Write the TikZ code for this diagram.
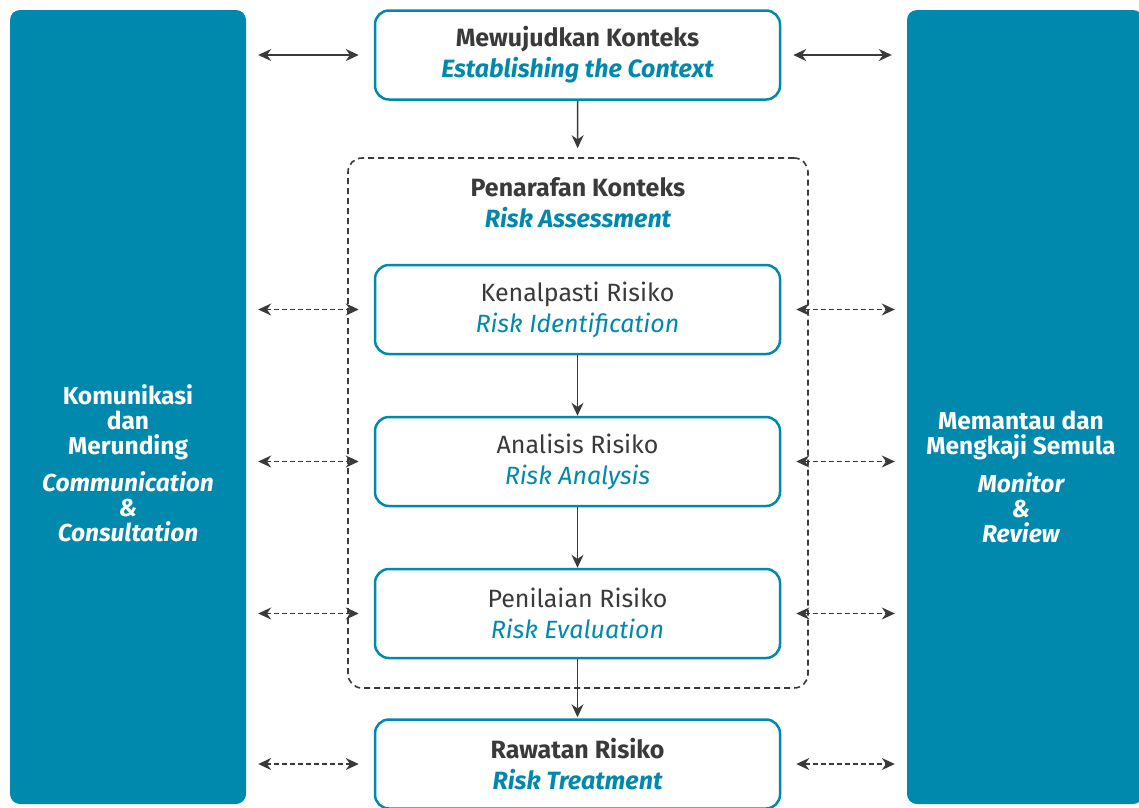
\documentclass[tikz,border=0pt]{standalone}
\usepackage{fontspec}
\setmainfont{Fira Sans}
\usetikzlibrary{positioning,arrows.meta}
\definecolor{riskteal}{HTML}{0088AD}
\definecolor{riskgray}{HTML}{3A3A3A}
\tikzset{
    stepbox/.style={draw=riskteal,line width=2.5,rounded corners=14,fill=white,
        minimum width=405,minimum height=89,align=center,text=riskgray,
        font=\fontsize{25}{31}\selectfont},
    sidepanel/.style={fill=riskteal,rounded corners=10,minimum width=236,
        minimum height=794,inner sep=0},
    sidelabel/.style={align=center,text=white,font=\bfseries\fontsize{24.5}{25}\selectfont},
    flow/.style={riskgray,line width=1.4,-{Stealth[length=13,width=12]}},
    link/.style={riskgray,line width=1.4,{Stealth[length=13,width=12]}-{Stealth[length=13,width=12]},
        shorten <=12,shorten >=15},
    dashlink/.style={link,dash pattern=on 5 off 3},
}
\newcommand{\en}[1]{\textcolor{riskteal}{\itshape #1}}
\begin{document}
\begin{tikzpicture}[x=1pt,y=-1pt]
    \useasboundingbox (0,0) rectangle (1139,807);
    %% Side panels
    \node[sidepanel] (comm) at (128,407) {};
    \node[sidepanel] (monitor) at (1025,407) {};
    \node[sidelabel] (commtext) at (128,463)
        {Komunikasi\\dan\\Merunding\\[11pt]\itshape Communication\\\itshape\&\\\itshape Consultation};
    \node[sidelabel] (monitortext) at (1021,477)
        {Memantau dan\\Mengkaji Semula\\[12pt]\itshape Monitor\\\itshape\&\\\itshape Review};
    %% Assessment frame
    \node[draw=riskgray,dash pattern=on 6 off 4,line width=1.6,rounded corners=14,
        minimum width=460,minimum height=530] (assess) at (578,423) {};
    \node[align=center,text=riskgray,font=\bfseries\fontsize{25}{31}\selectfont]
        (assesstext) at (578,203) {Penarafan Konteks\\\en{Risk Assessment}};
    %% Steps
    \node[stepbox] (ctx) at (577.5,55) {\bfseries Mewujudkan Konteks\\\en{\bfseries Establishing the Context}};
    \node[stepbox] (ident) at (577.5,309.5) {Kenalpasti Risiko\\\en{Risk Identification}};
    \node[stepbox] (analysis) at (577.5,461.5) {Analisis Risiko\\\en{Risk Analysis}};
    \node[stepbox] (evaluate) at (577.5,613.5) {Penilaian Risiko\\\en{Risk Evaluation}};
    \node[stepbox] (treat) at (577.5,764) {\bfseries Rawatan Risiko\\\en{\bfseries Risk Treatment}};
    %% Flow arrows
    \draw[flow,shorten >=9] (ctx) -- (assess);
    \draw[flow] (ident) -- (analysis);
    \draw[flow] (analysis) -- (evaluate);
    \draw[flow,shorten >=1] (evaluate) -- (treat);
    %% Side links
    \draw[link] (ctx.west -| comm.east) -- (ctx.west);
    \draw[link] (ctx.east) -- (ctx.east -| monitor.west);
    \foreach \step in {ident,analysis,evaluate,treat} {
        \draw[dashlink] (\step.west -| comm.east) -- (\step.west);
        \draw[dashlink,shorten <=15,shorten >=12] (\step.east) -- (\step.east -| monitor.west);
    }
\end{tikzpicture}
\end{document}
